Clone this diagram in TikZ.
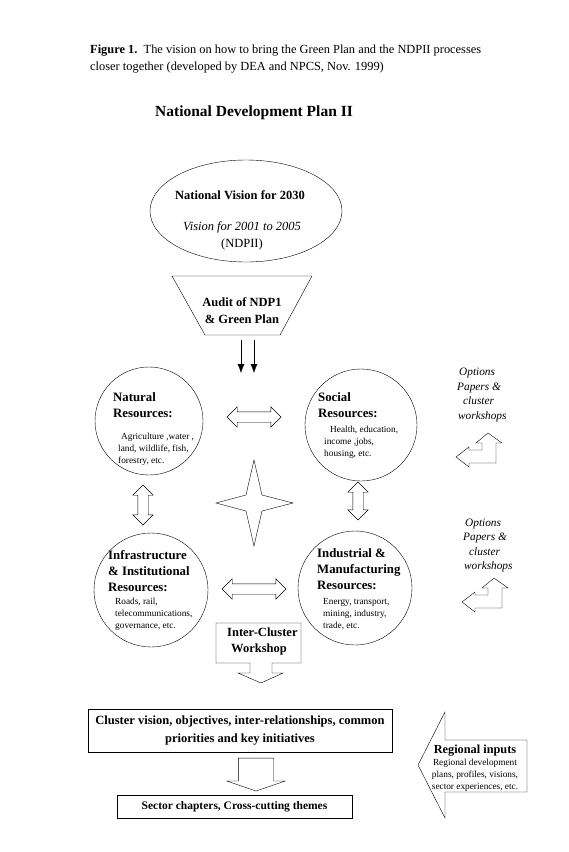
\documentclass[tikz,border=0pt]{standalone}
\usepackage{fontspec}
\setmainfont{Liberation Serif}
\usetikzlibrary{calc}
\usetikzlibrary{arrows.meta}
\usetikzlibrary{shapes}
\usetikzlibrary{shapes.arrows}
\usetikzlibrary{positioning}

\tikzset{
  restitle/.style={align=left, anchor=west, inner sep=0pt, font=\fontsize{12.8}{16}\selectfont\bfseries},
  resnote/.style={align=left, anchor=west, inner sep=0pt, font=\fontsize{9.3}{12}\selectfont},
  optnote/.style={align=left, anchor=west, inner sep=0pt, font=\fontsize{11.3}{14.5}\selectfont\itshape},
  rescircle/.style={circle, draw, inner sep=0pt, minimum size=#1},
  dblarrow/.style={double arrow, draw, inner xsep=0pt, inner ysep=5pt, double arrow head extend=5pt, minimum width=20pt, minimum height=#1},
  boxtext/.style={align=center, inner sep=0pt, font=\fontsize{12.5}{18}\selectfont\bfseries}
}

\begin{document}
\begin{tikzpicture}[x=1pt, y=-1pt]
\useasboundingbox (0,0) rectangle (569,852);

% caption and heading
\node [align=left, anchor=west, inner sep=0pt, font=\fontsize{12.4}{17}\selectfont] (cap) at (90,59)
  {\textbf{Figure 1.}\ \ The vision on how to bring the Green Plan and the NDPII processes\\closer together (developed by DEA and NPCS, Nov. 1999)};
\node [inner sep=0pt, font=\fontsize{15.5}{17}\selectfont\bfseries] (ndp) at (254,113) {National Development Plan II};

% vision ellipse
\node [ellipse, draw, inner sep=0pt, minimum width=192pt, minimum height=102pt] (vis) at (246,211) {};
\node [boxtext] (vistitle) at (240,195) {National Vision for 2030};
\node [align=center, inner sep=0pt, font=\fontsize{12.5}{17}\selectfont] (vissub) at (242,235.5) {\textit{Vision for 2001 to 2005}\\(NDPII)};

% audit funnel
\draw (172,276) -- (312,276) -- (280,335) -- (205,335) -- cycle;
\node [boxtext, font=\fontsize{12.5}{17}\selectfont\bfseries] (audit) at (242,311) {Audit of NDP1\\\& Green Plan};
\coordinate (a1) at (241,340);
\coordinate (a2) at (254,340);
\coordinate (b1) at (241,373);
\coordinate (b2) at (254,373);
\draw [-{Latex[length=9pt, width=7pt]}] (a1) to (b1);
\draw [-{Latex[length=9pt, width=7pt]}] (a2) to (b2);

% the four resource clusters
\node [rescircle=108pt] (nat) at (149,421) {};
\node [rescircle=112pt] (soc) at (361,425) {};
\node [rescircle=114pt] (inf) at (151,590) {};
\node [rescircle=114pt] (ind) at (355,588) {};

\node [restitle] (nattitle) at (113,405) {Natural\\Resources:};
\node [resnote] (natnote) at (118,449) {\hspace*{3pt}Agriculture ,water ,\\land, wildlife, fish,\\forestry, etc.};
\node [restitle] (soctitle) at (318,405) {Social\\Resources:};
\node [resnote] (socnote) at (324,442) {\hspace*{6pt}Health, education,\\income ,jobs,\\housing, etc.};
\node [restitle] (inftitle) at (108,571) {Infrastructure\\\& Institutional\\Resources:};
\node [resnote] (infnote) at (115,614) {Roads, rail,\\telecommunications,\\governance, etc.};
\node [restitle] (indtitle) at (317,569) {Industrial \&\\Manufacturing\\Resources:};
\node [resnote] (indnote) at (323,614) {Energy, transport,\\mining, industry,\\trade, etc.};

% links between clusters
\node [dblarrow=54pt] (natsoc) at (254,417) {};
\node [dblarrow=64pt] (infind) at (254,589) {};
\node [dblarrow=40pt, rotate=90] (natinf) at (143,505) {};
\node [dblarrow=38pt, rotate=90] (socind) at (358,501) {};

% star
\draw (254,460) -- (262,495) -- (293,503) -- (262,511) -- (254,546) -- (246,511) -- (216,503) -- (246,495) -- cycle;

% options papers
\node [optnote] (opt1) at (457,395) {\hspace*{2pt}Options\\Papers \&\\\hspace*{6pt}cluster\\\hspace*{1pt}workshops};
\node [optnote] (opt2) at (463,545.5) {\hspace*{2pt}Options\\Papers \&\\\hspace*{6pt}cluster\\\hspace*{1pt}workshops};
\foreach \dx/\dy in {0/0, 6/145} {
  \draw [shift={(\dx,\dy)}] (496,443) -- (502,443) -- (488,433) -- (476,443) -- (482,443) -- (482,450)
    -- (469,450) -- (469,447) -- (456,457) -- (469,467) -- (469,463) -- (496,463) -- cycle;
}

% inter-cluster workshop
\draw (216,623) -- (301,623) -- (301,663) -- (272,663) -- (272,673) -- (283,673) -- (261,683)
  -- (238,673) -- (250,673) -- (250,663) -- (216,663) -- cycle;
\node [boxtext, align=left, anchor=west, font=\fontsize{12.5}{16}\selectfont\bfseries] (icw) at (227,641) {Inter-Cluster\\\hspace*{4pt}Workshop};

% cluster vision and sector chapters
\node [draw, boxtext, minimum width=304pt, minimum height=43pt] (cvis) at (240,730.5)
  {Cluster vision, objectives, inter-relationships, common\\priorities and key initiatives};
\node [draw, inner sep=0pt, minimum width=235pt, minimum height=23pt, font=\fontsize{11.5}{14}\selectfont\bfseries] (sect) at (234.5,806.5)
  {Sector chapters, Cross-cutting themes};
\node [single arrow, draw, rotate=-90, inner xsep=0pt, inner ysep=17.5pt, single arrow head extend=11.5pt,
  single arrow tip angle=142, minimum height=33pt] (cdown) at (256,771.5) {};

% regional inputs
\draw (445,712) -- (445,740) -- (527,740) -- (527,792) -- (445,792) -- (445,818) -- (418,765) -- cycle;
\node [align=center, inner sep=0pt, font=\fontsize{9.3}{12}\selectfont] (reg) at (475,768)
  {{\fontsize{12.3}{12}\selectfont\bfseries Regional inputs}\\Regional development\\plans, profiles, visions,\\sector experiences, etc.};
\end{tikzpicture}
\end{document}
